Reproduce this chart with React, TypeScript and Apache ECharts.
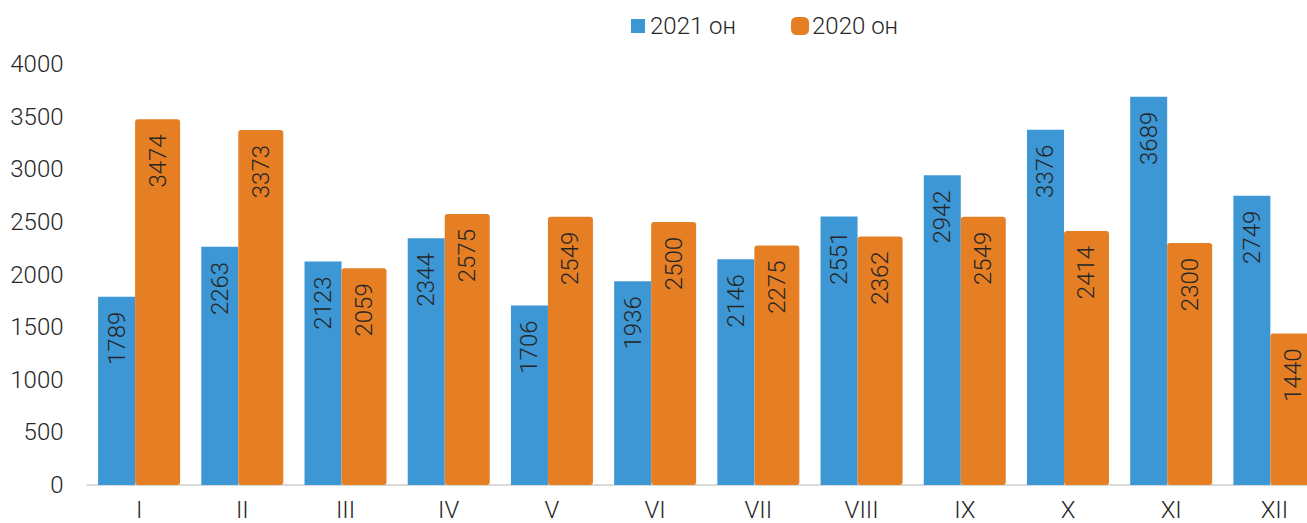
import React, { useEffect, useRef } from "react";
import * as echarts from "echarts";

const categories = ["I", "II", "III", "IV", "V", "VI", "VII", "VIII", "IX", "X", "XI", "XII"];
const series2021 = [1789, 2263, 2123, 2344, 1706, 1936, 2146, 2551, 2942, 3376, 3689, 2749];
const series2020 = [3474, 3373, 2059, 2575, 2549, 2500, 2275, 2362, 2549, 2414, 2300, 1440];
const seriesNames = ["2021 он", "2020 он"];

const FONT = "Roboto, 'Noto Sans', sans-serif";

export default function App() {
  const ref = useRef<HTMLDivElement>(null);
  useEffect(() => {
    if (!ref.current) return;
    const chart = echarts.init(ref.current, undefined, { renderer: "svg" });
    const labelCommon = {
      show: true,
      position: "insideTop",
      rotate: 90,
      align: "right",
      verticalAlign: "middle",
      distance: 15,
      color: "#262626",
      fontSize: 24,
      fontWeight: 300,
      fontFamily: FONT,
    };
    chart.setOption({
      animation: false,
      textStyle: { fontFamily: FONT },
      legend: {
        left: 626,
        top: 9,
        itemWidth: 14,
        itemHeight: 14,
        itemGap: 55,
        icon: "rect",
        textStyle: { fontSize: 24, fontWeight: 300, color: "#262626", fontFamily: FONT },
        data: [
          { name: seriesNames[0], icon: "rect" },
          { name: seriesNames[1], icon: "roundRect", itemStyle: { borderColor: "#E67E24", borderWidth: 4 } },
        ],
      },
      grid: { left: 87.5, right: 0, top: 64, bottom: 38, containLabel: false },
      xAxis: {
        type: "category",
        data: categories,
        axisLine: { show: true, lineStyle: { color: "#D9D9D9", width: 2 } },
        axisTick: { show: false },
        axisLabel: { fontSize: 24, fontWeight: 300, color: "#262626", margin: 13, fontFamily: FONT },
      },
      yAxis: {
        type: "value",
        min: 0,
        max: 4000,
        interval: 500,
        axisLine: { show: false },
        axisTick: { show: false },
        splitLine: { show: false },
        axisLabel: {
          fontSize: 24,
          fontWeight: 300,
          color: "#262626",
          margin: 24,
          fontFamily: FONT,
          formatter: (v: number) => String(v),
        },
      },
      series: [
        {
          name: seriesNames[0],
          type: "bar",
          data: series2021,
          barWidth: 37,
          barGap: "0%",
          itemStyle: { color: "#3D97D5" },
          label: labelCommon,
        },
        {
          name: seriesNames[1],
          type: "bar",
          data: series2020,
          barWidth: 45,
          barGap: "0%",
          itemStyle: { color: "#E67E24", borderRadius: 3 },
          label: labelCommon,
        },
      ],
    });
    return () => chart.dispose();
  }, []);
  return (
    <div style={{ position: "absolute", left: 0, top: 0, width: 1307, height: 523, overflow: "hidden", background: "#fff" }}>
      <div ref={ref} style={{ width: 1326, height: 523 }} />
    </div>
  );
}
